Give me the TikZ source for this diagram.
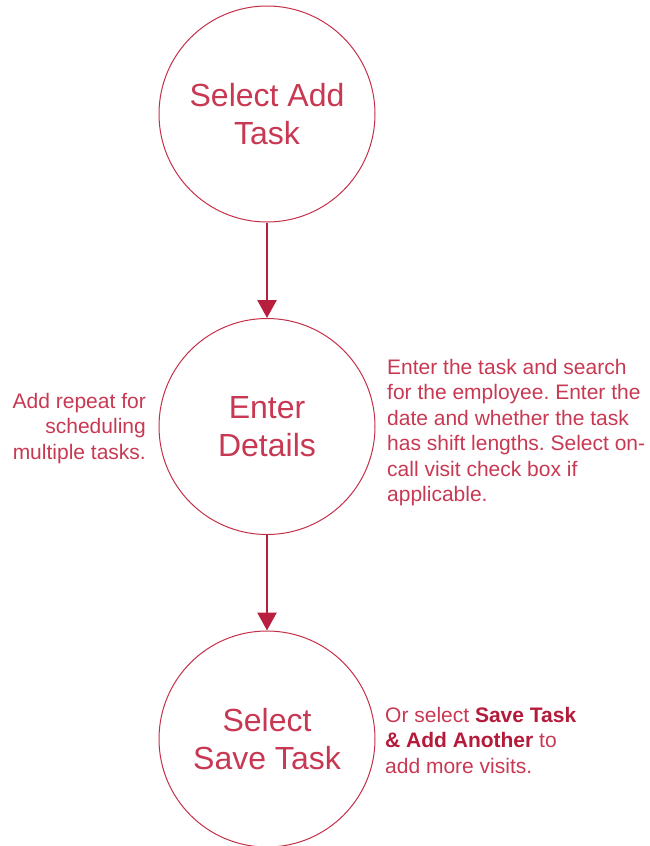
\documentclass[tikz,border=0pt]{standalone}
\usepackage{fontspec}
\setmainfont{Liberation Sans}
\usetikzlibrary{arrows.meta}
\frenchspacing
\definecolor{rcirc}{RGB}{196,48,74}
\definecolor{rtext}{RGB}{200,56,82}
\definecolor{rbold}{RGB}{180,26,58}
\definecolor{rarrow}{RGB}{184,30,62}
\begin{document}
\begin{tikzpicture}[x=1pt,y=-1pt,
  circ/.style={circle,draw=rcirc,line width=1pt,minimum size=216pt,inner sep=0pt},
  ctext/.style={text=rtext,align=center,inner sep=0pt,font=\fontsize{32}{38}\selectfont},
  stext/.style={text=rtext,inner sep=0pt,font=\fontsize{21}{25.5}\selectfont\frenchspacing},
  flow/.style={draw=rarrow,line width=2.6pt,-{Triangle[width=19pt,length=18pt]}}]
\useasboundingbox (0,0) rectangle (649,846);
\node[circ] (c1) at (267,114) {};
\node[circ] (c2) at (267,426.5) {};
\node[circ] (c3) at (267,739) {};
\node[ctext] (t1) at ([yshift=-3.4pt]c1.center) {\strut Select Add\\Task\strut};
\node[ctext] (t2) at ([yshift=-3.4pt]c2.center) {\strut Enter\\Details\strut};
\node[ctext] (t3) at ([yshift=-3.4pt]c3.center) {\strut Select\\Save Task\strut};
\draw[flow] (c1.south) -- (c2.north);
\draw[flow] (c2.south) -- (c3.north);
\node[stext,align=right,anchor=north east] (l2) at (146,390.2) {\strut Add repeat for\\scheduling\\multiple tasks.};
\node[stext,align=left,anchor=north west] (r2) at (387,356.2) {\strut Enter the task and search\\for the employee. Enter the\\date and whether the task\\has shift lengths. Select on-\\call visit check box if\\applicable.};
\node[stext,align=left,anchor=north west] (r3) at (385,704.2) {\strut Or select {\color{rbold}\bfseries Save Task}\\{\color{rbold}\bfseries \& Add Another} to\\add more visits.};
\end{tikzpicture}
\end{document}
